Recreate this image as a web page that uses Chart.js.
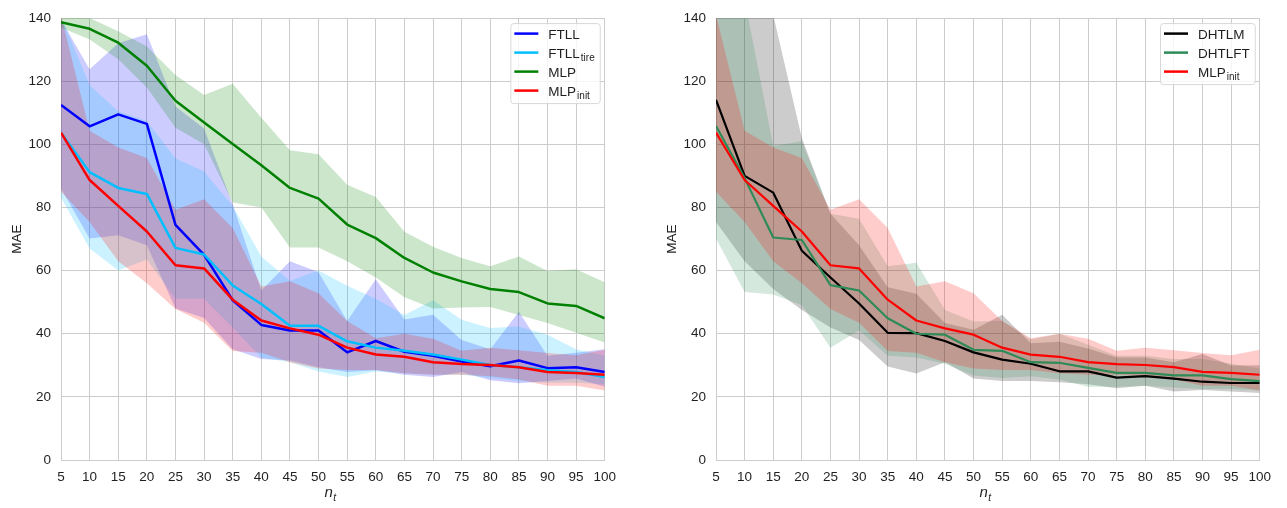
<!DOCTYPE html>
<html>
<head>
<meta charset="utf-8">
<script src="https://cdn.jsdelivr.net/npm/chart.js@4.4.1/dist/chart.umd.min.js"></script>
<style>
  body { margin: 0; background: #fff; width: 1287px; height: 508px; position: relative; overflow: hidden; }
  canvas { position: absolute; top: 0; }
  #left { left: 0; }
  #right { left: 655px; }
</style>
</head>
<body>
<canvas id="left" width="625" height="508"></canvas>
<canvas id="right" width="625" height="508"></canvas>
<script>
// n_t values (x axis) and y ticks
const nt = [5, 10, 15, 20, 25, 30, 35, 40, 45, 50, 55, 60, 65, 70, 75, 80, 85, 90, 95, 100];
const yTicks = [0, 20, 40, 60, 80, 100, 120, 140];

// left panel: means
const ftll     = [112.5, 105.7, 109.5, 106.5, 74.5, 65, 50.6, 42.8, 41, 41, 34.1, 37.7, 34.3, 33, 31.2, 29.7, 31.5, 29.1, 29.4, 27.9];
const ftllTire = [103.7, 91.2, 86.2, 84.3, 67.2, 65.1, 55.3, 49.4, 42.5, 42.5, 37.6, 35.6, 34.6, 33.4, 31.8, 30.1, 29.4, 28.4, 27.9, 26.3];
const mlp      = [138.7, 136.6, 132.2, 124.9, 113.8, 106.9, 100.1, 93.4, 86.2, 82.8, 74.6, 70.3, 64, 59.4, 56.6, 54.2, 53.2, 49.6, 48.8, 44.9];
const mlpInit  = [103.7, 88.7, 80.5, 72.4, 61.7, 60.7, 50.8, 44.2, 41.7, 39.7, 35.6, 33.4, 32.7, 31, 30.4, 30.1, 29.4, 27.9, 27.6, 27];

// left panel: band limits
const ftllHi     = [139.5, 123.8, 132, 134.9, 112, 105, 81, 53.7, 63, 59.5, 44, 57.3, 44.5, 46, 38, 35.1, 47, 33, 34, 35.1];
const ftllLo     = [86, 70.2, 71.2, 68, 48, 45, 35.1, 32, 31.5, 29.4, 27.9, 28.4, 27, 26.3, 27.9, 25.3, 24.3, 25, 25.8, 23.2];
const ftllTireHi = [140.5, 118.7, 110.5, 107.4, 95.5, 91.4, 80.5, 64.5, 56.8, 60, 55.2, 51.1, 45.9, 50.6, 44.4, 41.8, 42.3, 39.7, 35.1, 33];
const ftllTireLo = [83.1, 67, 60, 63.5, 51.1, 51.1, 42, 32.5, 31, 28, 26.3, 28, 27.5, 27, 27, 26, 25, 24.5, 24.5, 24];
const mlpHi      = [141, 140, 135.8, 131, 122, 115.6, 119.2, 108.4, 98.1, 96.9, 87.2, 83.3, 72.3, 67.6, 64, 61.4, 64.5, 59.9, 60.4, 56.3];
const mlpLo      = [137, 133.2, 127, 118, 105.3, 100, 81.6, 80, 67.3, 67.3, 63, 57.8, 51.6, 48, 48.3, 48.5, 45.9, 43.4, 40.3, 37.2];
const mlpInitHi  = [141, 104.3, 99, 95.7, 79.3, 82.6, 73.5, 55, 56.6, 52.8, 44, 38.6, 40, 38.4, 34.6, 35.6, 34.8, 33.9, 33.2, 34.9];
const mlpInitLo  = [85, 75.4, 63, 56, 47.8, 43.5, 34.5, 34, 31, 29, 28.5, 28.5, 27.5, 27, 27, 26.5, 25.5, 23.5, 23.5, 22];

// right panel: means
const dhtlm  = [114.1, 90, 84.7, 66.3, 57.8, 49.6, 40.3, 40.2, 37.7, 34.1, 31.8, 30.5, 28.1, 28.1, 26.1, 26.6, 25.8, 24.8, 24.4, 24.4];
const dhtlft = [105.8, 89.3, 70.5, 69.7, 55.4, 53.7, 44.9, 40, 39.7, 34.9, 34.6, 31, 30.8, 29.2, 27.6, 27.6, 26.8, 26.8, 25.6, 25];

// right panel: band limits
const dhtlmHi  = [146, 146, 141, 102, 78, 68, 54.7, 52.7, 43.4, 41.3, 46, 37, 37.5, 35.3, 32.5, 32.5, 31, 33.6, 29.9, 30];
const dhtlmLo  = [75.4, 63, 54.2, 47.5, 42, 38, 29.6, 27.4, 31, 25.8, 25, 25, 24.6, 24, 22.7, 23.5, 21.7, 22.2, 21.7, 21.2];
const dhtlftHi = [146, 146, 99.5, 101, 78, 76.4, 61.4, 62.5, 47.5, 43.9, 44, 38.2, 40, 36.5, 33, 33, 32, 32, 30.5, 29];
const dhtlftLo = [70.2, 53.2, 52.4, 49, 35.6, 41.1, 33, 32.5, 30.5, 26.8, 26, 26.5, 25.5, 23.2, 23.2, 23.5, 23, 22.5, 22.5, 22];

const FONT = '"Liberation Sans", Arial, sans-serif';
const TEXT = '#1f1f1f';
const GRID = '#cccccc';
Chart.defaults.font.family = FONT;
Chart.defaults.color = TEXT;

function pts(arr) { return nt.map((x, i) => ({ x: x, y: arr[i] })); }
function rgba(rgb, a) { return 'rgba(' + rgb.join(',') + ',' + a + ')'; }

// legend with subscripts, drawn on the canvas
const subLegend = {
  id: 'subLegend',
  afterDraw(chart, args, opts) {
    const ctx = chart.ctx, a = chart.chartArea;
    const main = '13.5px ' + FONT, small = '10px ' + FONT;
    ctx.save();
    let maxW = 0;
    opts.items.forEach(it => {
      ctx.font = main;
      let w = ctx.measureText(it.label).width;
      if (it.sub) { ctx.font = small; w += ctx.measureText(it.sub).width + 1; }
      maxW = Math.max(maxW, w);
    });
    const rowH = 19, lineLen = 24;
    const w = 4 + lineLen + 10 + maxW + 5;
    const h = opts.items.length * rowH + 4;
    const x0 = a.right - 5 - w, y0 = a.top + 5;
    ctx.beginPath();
    ctx.roundRect(x0 + 0.5, y0 + 0.5, w, h, 3);
    ctx.fillStyle = 'rgba(255,255,255,0.8)';
    ctx.fill();
    ctx.strokeStyle = '#d8d8d8';
    ctx.lineWidth = 1;
    ctx.stroke();
    opts.items.forEach((it, i) => {
      const cy = y0 + 10.5 + i * rowH;
      ctx.beginPath();
      ctx.moveTo(x0 + 4, cy);
      ctx.lineTo(x0 + 4 + lineLen, cy);
      ctx.strokeStyle = it.color;
      ctx.lineWidth = 2.5;
      ctx.stroke();
      const tx = x0 + 4 + lineLen + 10;
      ctx.fillStyle = TEXT;
      ctx.textBaseline = 'alphabetic';
      ctx.font = main;
      ctx.fillText(it.label, tx, cy + 5);
      if (it.sub) {
        const lw = ctx.measureText(it.label).width;
        ctx.font = small;
        ctx.fillText(it.sub, tx + lw + 1, cy + 8);
      }
    });
    ctx.restore();
  }
};

// italic n with subscript t under the x axis
const xTitle = {
  id: 'xTitle',
  afterDraw(chart) {
    const ctx = chart.ctx, a = chart.chartArea;
    const cx = (a.left + a.right) / 2;
    ctx.save();
    ctx.fillStyle = TEXT;
    ctx.textBaseline = 'alphabetic';
    ctx.font = 'italic 15px ' + FONT;
    const nw = ctx.measureText('n').width;
    ctx.fillText('n', cx - nw, 497);
    ctx.font = 'italic 10px ' + FONT;
    ctx.fillText('t', cx + 0.5, 501);
    ctx.restore();
  }
};

function makeChart(id, series, lineW) {
  const datasets = [];
  series.forEach((s, i) => {
    datasets.push({ data: pts(s.hi), borderWidth: 0, pointRadius: 0, fill: '+1',
                    backgroundColor: rgba(s.rgb, 0.2), order: 50 - i });
    datasets.push({ data: pts(s.lo), borderWidth: 0, pointRadius: 0, fill: false, order: 50 - i });
  });
  series.forEach((s, i) => {
    datasets.push({ data: pts(s.mean), borderColor: rgba(s.rgb, 1), borderWidth: lineW,
                    pointRadius: 0, fill: false, tension: 0, borderJoinStyle: 'round',
                    order: 10 - i });
  });
  return new Chart(document.getElementById(id), {
    type: 'line',
    data: { datasets: datasets },
    options: {
      responsive: false,
      animation: false,
      layout: { padding: { top: 8, right: 20, left: 0, bottom: 0 } },
      plugins: {
        legend: { display: false },
        tooltip: { enabled: false },
        subLegend: { items: series.map(s => ({ label: s.label, sub: s.sub, color: rgba(s.rgb, 1) })) }
      },
      scales: {
        x: {
          type: 'linear', min: 5, max: 100,
          afterBuildTicks: sc => { sc.ticks = nt.map(v => ({ value: v })); },
          afterFit: sc => { sc.height = 48; },
          grid: { color: GRID, lineWidth: 1, drawTicks: false },
          border: { color: GRID, width: 1 },
          ticks: { font: { size: 13.5 }, color: TEXT, padding: 9, maxRotation: 0, autoSkip: false }
        },
        y: {
          min: 0, max: 140,
          afterBuildTicks: sc => { sc.ticks = yTicks.map(v => ({ value: v })); },
          afterFit: sc => { sc.width = 61; },
          grid: { color: GRID, lineWidth: 1, drawTicks: false },
          border: { color: GRID, width: 1 },
          ticks: { font: { size: 13.5 }, color: TEXT, padding: 10 },
          title: { display: true, text: 'MAE', font: { size: 13.5 }, color: TEXT, padding: { top: 9, bottom: 0 } }
        }
      }
    },
    plugins: [subLegend, xTitle]
  });
}

makeChart('left', [
  { label: 'FTLL', sub: '', rgb: [0, 0, 255], mean: ftll, hi: ftllHi, lo: ftllLo },
  { label: 'FTLL', sub: 'tire', rgb: [0, 191, 255], mean: ftllTire, hi: ftllTireHi, lo: ftllTireLo },
  { label: 'MLP', sub: '', rgb: [0, 128, 0], mean: mlp, hi: mlpHi, lo: mlpLo },
  { label: 'MLP', sub: 'init', rgb: [255, 0, 0], mean: mlpInit, hi: mlpInitHi, lo: mlpInitLo }
], 2.5);

makeChart('right', [
  { label: 'DHTLM', sub: '', rgb: [0, 0, 0], mean: dhtlm, hi: dhtlmHi, lo: dhtlmLo },
  { label: 'DHTLFT', sub: '', rgb: [46, 139, 87], mean: dhtlft, hi: dhtlftHi, lo: dhtlftLo },
  { label: 'MLP', sub: 'init', rgb: [255, 0, 0], mean: mlpInit, hi: mlpInitHi, lo: mlpInitLo }
], 2.2);
</script>
</body>
</html>
